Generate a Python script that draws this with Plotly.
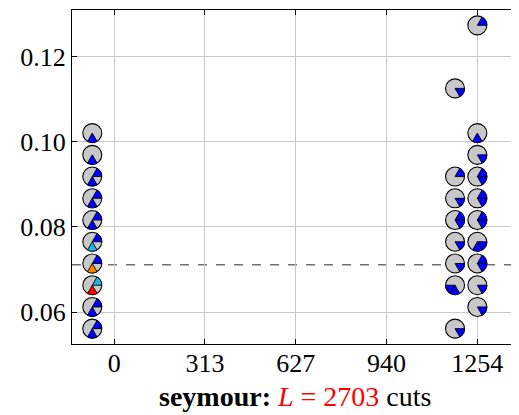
import numpy as np
import plotly.graph_objects as go

# ------------------------------------------
# DATA
# ------------------------------------------
X_TICKS = [0, 313, 627, 940, 1254]
MEAN_Y = 0.0711

# one string per glyph, one char per 60° sector (counter-clockwise from 0°)
# '.' = nothing, b = blue, c = cyan, o = orange, r = red
LEFT_X = -76
LEFT_Y = [0.0561, 0.0612, 0.0663, 0.0714, 0.0765, 0.0816, 0.0867, 0.0918, 0.0969, 0.1020]
LEFT_SECTORS = ["b...b.", "b...b.", "c...r.", "b...o.", "b...c.",
                "b...b.", "b...b.", "b...b.", "....b.", "....b."]

MID_X = 1177
MID_Y = [0.0561, 0.0663, 0.0714, 0.0765, 0.0816, 0.0867, 0.0918, 0.1125]
MID_SECTORS = [".....b", "...bb.", ".....b", ".....b", "b....b", ".....b", "b.....", ".....b"]

RIGHT_X = 1254
RIGHT_Y = [0.0612, 0.0663, 0.0714, 0.0765, 0.0816, 0.0867, 0.0918, 0.0969, 0.1020, 0.1273]
RIGHT_SECTORS = [".....b", ".....b", "b....b", "....bb", "b....b",
                 "b....b", "b....b", ".....b", "....b.", "b....."]

# ------------------------------------------
# STYLE
# ------------------------------------------
SECTOR_COLORS = {"b": "#0000ff", "c": "#1eb4e6", "o": "#ff8000", "r": "#ff0000"}
GRAY = "#c8c8c8"
R_PX = 9.5
FONT = "Liberation Serif"


def wedge_path(a0, a1, r=R_PX, n=12):
    """Kreissektor in Pixel-Koordinaten relativ zum Anker."""
    ang = np.radians(np.linspace(a0, a1, n + 1))
    pts = [f"L{r*np.cos(a):.2f},{r*np.sin(a):.2f}" for a in ang]
    return "M0,0 " + " ".join(pts) + " Z"


xs, ys, shapes = [], [], []
for x0, ylist, slist in [(LEFT_X, LEFT_Y, LEFT_SECTORS),
                         (MID_X, MID_Y, MID_SECTORS),
                         (RIGHT_X, RIGHT_Y, RIGHT_SECTORS)]:
    for y0, code in zip(ylist, slist):
        xs.append(x0)
        ys.append(y0)
        for k, c in enumerate(code):
            if c == ".":
                continue
            shapes.append(dict(
                type="path", xref="x", yref="y",
                xsizemode="pixel", ysizemode="pixel",
                xanchor=x0, yanchor=y0,
                path=wedge_path(60 * k, 60 * (k + 1)),
                fillcolor=SECTOR_COLORS[c],
                line=dict(color="black", width=0.9),
                layer="above",
            ))

# mean line
shapes.append(dict(
    type="line", xref="paper", yref="y", x0=0, x1=1, y0=MEAN_Y, y1=MEAN_Y,
    line=dict(color="#707070", width=1.5, dash="dash"), layer="below",
))

fig = go.Figure()
fig.add_trace(go.Scatter(
    x=xs, y=ys, mode="markers",
    marker=dict(size=19, color=GRAY, line=dict(color="black", width=1.1)),
    showlegend=False, hoverinfo="skip", cliponaxis=False,
))

fig.add_annotation(
    text="<b>seymour:</b> <span style='color:#ff0000'><i>L</i> = 2703</span> cuts",
    xref="paper", yref="paper", x=0.5, y=-0.158, xanchor="center", yanchor="middle",
    showarrow=False, font=dict(family=FONT, size=28, color="black"),
)

# page body has an 8px margin -> figure is 8px smaller than the window
fig.update_layout(
    width=511, height=407,
    margin=dict(l=64, r=2, t=2, b=71),
    plot_bgcolor="white", paper_bgcolor="white",
    font=dict(family=FONT, size=26, color="black"),
    shapes=shapes,
    showlegend=False,
    xaxis=dict(
        range=[-146, 1391], automargin=False,
        tickvals=X_TICKS, ticktext=[str(v) for v in X_TICKS],
        showgrid=True, gridcolor="#c8c8c8", gridwidth=1,
        zeroline=False, showline=True, linecolor="black", linewidth=1,
        mirror="ticks", ticks="inside", ticklen=5, tickcolor="black",
        ticklabelstandoff=-4,
    ),
    yaxis=dict(
        range=[0.0525, 0.1309], automargin=False,
        tickvals=[0.06, 0.08, 0.10, 0.12], tickformat=".2f",
        showgrid=True, gridcolor="#c8c8c8", gridwidth=1,
        zeroline=False, showline=True, linecolor="black", linewidth=1,
        mirror="ticks", ticks="inside", ticklen=5, tickcolor="black",
    ),
)

fig.write_html("out.html")
